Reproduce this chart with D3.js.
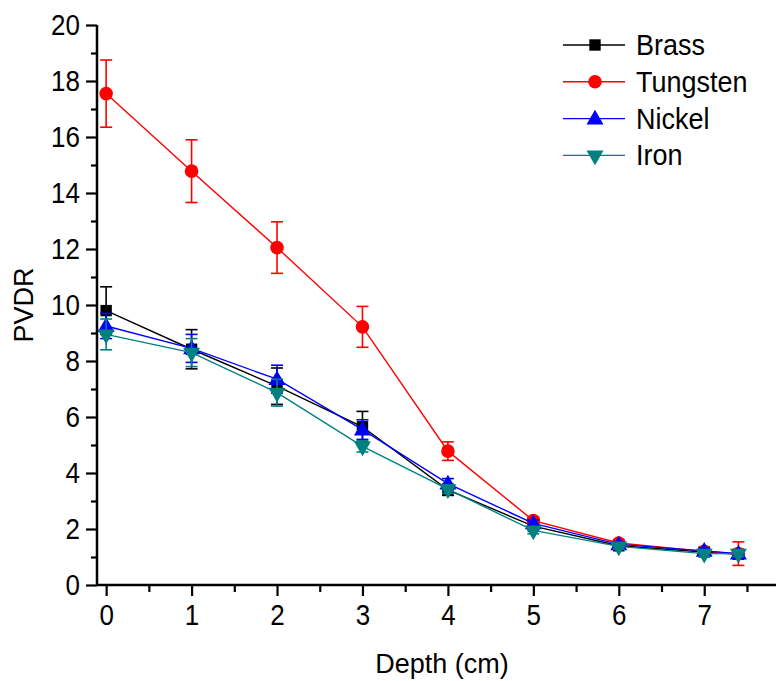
<!DOCTYPE html>
<html>
<head>
<meta charset="utf-8">
<script src="https://cdn.jsdelivr.net/npm/d3@7"></script>
<style>
  html, body { margin: 0; padding: 0; background: #fff; }
  svg { display: block; font-family: "Liberation Sans", Arial, sans-serif; }
</style>
</head>
<body>
<div id="chart"></div>
<script>
const depths = [0, 1, 2, 3, 4, 5, 6, 7, 7.4];

const brass = [9.8, 8.42, 7.1, 5.65, 3.4, 2.1, 1.4, 1.18, 1.1];
const brassErr = [0.85, 0.7, 0.65, 0.55, 0.2, 0.12, 0.1, 0.08, 0.15];

const tungsten = [17.55, 14.78, 12.05, 9.22, 4.78, 2.3, 1.5, 1.2, 1.12];
const tungstenErr = [1.2, 1.12, 0.92, 0.73, 0.33, 0.12, 0.1, 0.08, 0.42];

const nickel = [9.25, 8.45, 7.35, 5.55, 3.62, 2.2, 1.45, 1.22, 1.12];
const nickelErr = [0.45, 0.5, 0.5, 0.35, 0.18, 0.12, 0.1, 0.1, 0.12];

const iron = [8.95, 8.3, 6.87, 4.95, 3.42, 1.95, 1.38, 1.12, 1.12];
const ironErr = [0.55, 0.5, 0.48, 0.2, 0.15, 0.12, 0.1, 0.1, 0.1];

const seriesNames = ["Brass", "Tungsten", "Nickel", "Iron"];
const seriesColors = ["#000000", "#ff0000", "#0000ff", "#008080"];

const xMajorTicks = [0, 1, 2, 3, 4, 5, 6, 7];
const yMajorTicks = [0, 2, 4, 6, 8, 10, 12, 14, 16, 18, 20];

const xLabel = "Depth (cm)";
const yLabel = "PVDR";

const W = 776, H = 681;
const plotLeft = 97, plotTop = 25, plotBottom = 585, plotRight = 776;
const stretch = 1.12; // the source text looks a bit tall

const x = d3.scaleLinear().domain([-0.107, 7.84]).range([plotLeft, plotRight]);
const y = d3.scaleLinear().domain([0, 20]).range([plotBottom, plotTop]);

const svg = d3.select("#chart").append("svg")
  .attr("width", W)
  .attr("height", H)
  .attr("viewBox", [0, 0, W, H]);

// axes
const xAxis = d3.axisBottom(x)
  .tickValues(xMajorTicks)
  .tickSize(11)
  .tickPadding(6)
  .tickFormat(d3.format("d"));

const xMinor = d3.axisBottom(x)
  .tickValues(d3.range(0.5, 7.6, 1))
  .tickSize(7)
  .tickFormat("");

const yAxis = d3.axisLeft(y)
  .tickValues(yMajorTicks)
  .tickSize(11)
  .tickPadding(6)
  .tickFormat(d3.format("d"));

const yMinor = d3.axisLeft(y)
  .tickValues(d3.range(1, 20, 2))
  .tickSize(6)
  .tickFormat("");

function styleAxis(g) {
  g.select(".domain").attr("stroke", "#000").attr("stroke-width", 2.5);
  g.selectAll(".tick line").attr("stroke", "#000").attr("stroke-width", 2.2);
  g.selectAll(".tick text")
    .attr("fill", "#000")
    .attr("transform", `scale(1,${stretch})`)
    .style("font-size", "26px")
    .style("font-family", "'Liberation Sans', Arial, sans-serif");
}

svg.append("g").attr("transform", `translate(0,${plotBottom})`).call(xMinor).call(styleAxis)
  .select(".domain").remove();
svg.append("g").attr("transform", `translate(${plotLeft},0)`).call(yMinor).call(styleAxis)
  .select(".domain").remove();

svg.append("g").attr("transform", `translate(0,${plotBottom})`).call(xAxis).call(styleAxis)
  .select(".domain").attr("d", `M${plotLeft},0H${plotRight}`);
svg.append("g").attr("transform", `translate(${plotLeft},0)`).call(yAxis).call(styleAxis)
  .select(".domain").attr("d", `M0,${plotTop}V${plotBottom}`);

svg.append("text")
  .attr("transform", `translate(442,673) scale(1,1.05)`)
  .attr("text-anchor", "middle")
  .style("font-size", "27px")
  .text(xLabel);

svg.append("text")
  .attr("transform", "translate(33,305) rotate(-90)")
  .attr("text-anchor", "middle")
  .style("font-size", "27px")
  .text(yLabel);

// series
const seriesData = [
  { name: seriesNames[0], color: seriesColors[0], values: brass, errs: brassErr, shape: "square" },
  { name: seriesNames[1], color: seriesColors[1], values: tungsten, errs: tungstenErr, shape: "circle" },
  { name: seriesNames[2], color: seriesColors[2], values: nickel, errs: nickelErr, shape: "up" },
  { name: seriesNames[3], color: seriesColors[3], values: iron, errs: ironErr, shape: "down" }
];

function markerPath(shape) {
  if (shape === "square") return d3.symbol(d3.symbolSquare, 130)();
  if (shape === "circle") return d3.symbol(d3.symbolCircle, 145)();
  return d3.symbol(d3.symbolTriangle, 125)();
}

function markerTransform(shape, px, py) {
  if (shape === "down") return `translate(${px},${py}) rotate(180)`;
  if (shape === "up") return `translate(${px},${py + 1})`;
  return `translate(${px},${py})`;
}

const line = d3.line()
  .x(function (d) { return x(d.depth); })
  .y(function (d) { return y(d.value); });

seriesData.forEach(function (s) {
  const pts = depths.map(function (d, i) {
    return { depth: d, value: s.values[i], err: s.errs[i] };
  });

  const g = svg.append("g");

  g.append("path")
    .datum(pts)
    .attr("d", line)
    .attr("fill", "none")
    .attr("stroke", s.color)
    .attr("stroke-width", 1.4);

  const eb = g.selectAll(".err")
    .data(pts)
    .join("g")
    .attr("stroke", s.color)
    .attr("stroke-width", 1.6);

  eb.append("line")
    .attr("x1", function (d) { return x(d.depth); })
    .attr("x2", function (d) { return x(d.depth); })
    .attr("y1", function (d) { return y(d.value + d.err); })
    .attr("y2", function (d) { return y(d.value - d.err); });

  eb.append("line")
    .attr("x1", function (d) { return x(d.depth) - 6; })
    .attr("x2", function (d) { return x(d.depth) + 6; })
    .attr("y1", function (d) { return y(d.value + d.err); })
    .attr("y2", function (d) { return y(d.value + d.err); });

  eb.append("line")
    .attr("x1", function (d) { return x(d.depth) - 6; })
    .attr("x2", function (d) { return x(d.depth) + 6; })
    .attr("y1", function (d) { return y(d.value - d.err); })
    .attr("y2", function (d) { return y(d.value - d.err); });

  g.selectAll(".marker")
    .data(pts)
    .join("path")
    .attr("d", markerPath(s.shape))
    .attr("transform", function (d) { return markerTransform(s.shape, x(d.depth), y(d.value)); })
    .attr("fill", s.color);
});

// legend
const legend = svg.append("g");
seriesData.forEach(function (s, i) {
  const ry = 45 + i * 36.8;
  legend.append("line")
    .attr("x1", 563).attr("x2", 625)
    .attr("y1", ry).attr("y2", ry)
    .attr("stroke", s.color)
    .attr("stroke-width", 1.4);
  legend.append("path")
    .attr("d", markerPath(s.shape))
    .attr("transform", markerTransform(s.shape, 595, ry))
    .attr("fill", s.color);
  legend.append("text")
    .attr("transform", `translate(636,${ry + 10}) scale(1,${stretch})`)
    .style("font-size", "27px")
    .text(s.name);
});
</script>
</body>
</html>
